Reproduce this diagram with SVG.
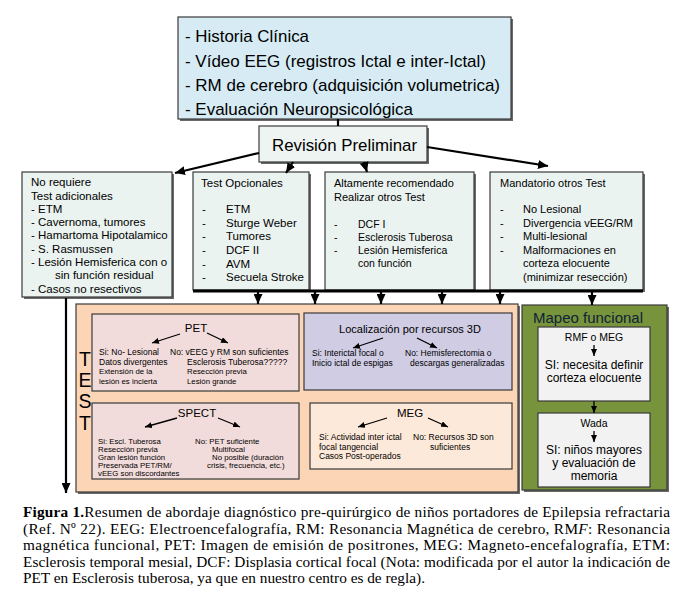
<svg xmlns="http://www.w3.org/2000/svg" width="684" height="604" viewBox="0 0 684 604">
<style>
text{font-family:"Liberation Sans",Arial,sans-serif;fill:#000}
.cap{font-family:"Liberation Serif","Times New Roman",serif;font-size:15.3px}
.bx{stroke:#3a3a3a;stroke-width:1.2}
.sh{fill:#6a6a6a}
.col{fill:#ebf3f0}
.c1{font-size:11.5px}
.c3{font-size:10.5px}
.c4{font-size:11px}
.sm{font-size:8.5px}
.sp{font-size:7.8px}
.ti{font-size:11.5px}
.mid{text-anchor:middle}
.tv{font-size:19.5px;writing-mode:vertical-rl;text-orientation:upright;letter-spacing:-0.8px}
.con line{stroke:#000;stroke-width:2.2;fill:none}
.con line.thin{stroke-width:1.3}
</style>
<defs>
<marker id="ab" markerUnits="userSpaceOnUse" markerWidth="10" markerHeight="9" refX="10" refY="4.5" orient="auto"><path d="M0,0 L10,4.5 L0,9 Z" fill="#000"/></marker>
<marker id="as" markerUnits="userSpaceOnUse" markerWidth="7" markerHeight="6" refX="7" refY="3" orient="auto"><path d="M0,0 L7,3 L0,6 Z" fill="#000"/></marker>
</defs>
<rect width="684" height="604" fill="#fff"/>

<g id="n-top">
<rect class="sh" x="180" y="19" width="333" height="102"/>
<rect class="bx" x="178" y="17" width="333" height="102" fill="#d6ebf4"/>
<text x="185" y="42" font-size="17" textLength="124" lengthAdjust="spacingAndGlyphs">- Historia Clínica</text>
<text x="185" y="66.5" font-size="17" textLength="301" lengthAdjust="spacingAndGlyphs">- Vídeo EEG (registros Ictal e inter-Ictal)</text>
<text x="185" y="90.5" font-size="17" textLength="315" lengthAdjust="spacingAndGlyphs">- RM de cerebro (adquisición volumetrica)</text>
<text x="185" y="114.5" font-size="17" textLength="228" lengthAdjust="spacingAndGlyphs">- Evaluación Neuropsicológica</text>
</g>

<g id="n-revision">
<rect class="sh" x="261" y="128" width="168" height="36"/>
<rect class="bx" x="259" y="126" width="168" height="36" fill="#eef4f1"/>
<text x="272" y="150.5" font-size="17" textLength="145" lengthAdjust="spacingAndGlyphs">Revisión Preliminar</text>
</g>

<g id="n-norequiere">
<rect class="sh" x="24" y="174" width="150" height="125"/>
<rect class="bx col" x="22" y="172" width="150" height="125"/>
<text class="c1" x="31" y="186">No requiere</text>
<text class="c1" x="31" y="199.5">Test adicionales</text>
<text class="c1" x="31" y="212.5">- ETM</text>
<text class="c1" x="31" y="225.8">- Cavernoma, tumores</text>
<text class="c1" x="31" y="239.2">- Hamartoma Hipotalamico</text>
<text class="c1" x="31" y="252.6">- S. Rasmussen</text>
<text class="c1" x="31" y="266">- Lesión Hemisferica con o</text>
<text class="c1" x="55" y="279.3">sin función residual</text>
<text class="c1" x="31" y="292.6">- Casos no resectivos</text>
</g>

<g id="n-opcionales">
<rect class="sh" x="195" y="174" width="116" height="118"/>
<rect class="bx col" x="193" y="172" width="116" height="118"/>
<text class="c1" x="201" y="187">Test Opcionales</text>
<text class="c1" x="202" y="213">-</text><text class="c1" x="226" y="213">ETM</text>
<text class="c1" x="202" y="226.5">-</text><text class="c1" x="226" y="226.5">Sturge Weber</text>
<text class="c1" x="202" y="240">-</text><text class="c1" x="226" y="240">Tumores</text>
<text class="c1" x="202" y="254">-</text><text class="c1" x="226" y="254">DCF II</text>
<text class="c1" x="202" y="267.5">-</text><text class="c1" x="226" y="267.5">AVM</text>
<text class="c1" x="202" y="281">-</text><text class="c1" x="226" y="281">Secuela Stroke</text>
</g>

<g id="n-recomendado">
<rect class="sh" x="327" y="174" width="149" height="118"/>
<rect class="bx col" x="325" y="172" width="149" height="118"/>
<text class="c4" x="334" y="187">Altamente recomendado</text>
<text class="c4" x="334" y="200.5">Realizar otros Test</text>
<text class="c3" x="334" y="227.5">-</text><text class="c3" x="358" y="227.5">DCF I</text>
<text class="c3" x="334" y="240.5">-</text><text class="c3" x="358" y="240.5">Esclerosis Tuberosa</text>
<text class="c3" x="334" y="254">-</text><text class="c3" x="358" y="254">Lesión Hemisferica</text>
<text class="c3" x="358" y="267">con función</text>
</g>

<g id="n-mandatorio">
<rect class="sh" x="492" y="174" width="153" height="118"/>
<rect class="bx col" x="490" y="172" width="153" height="118"/>
<text class="c4" x="500" y="187">Mandatorio otros Test</text>
<text class="c4" x="500" y="213">-</text><text class="c4" x="523" y="213">No Lesional</text>
<text class="c4" x="500" y="226.5">-</text><text class="c4" x="523" y="226.5">Divergencia vEEG/RM</text>
<text class="c4" x="500" y="240">-</text><text class="c4" x="523" y="240">Multi-lesional</text>
<text class="c4" x="500" y="253.5">-</text><text class="c4" x="523" y="253.5">Malformaciones en</text>
<text class="c4" x="523" y="267">corteza elocuente</text>
<text class="c4" x="523" y="280.5">(minimizar resección)</text>
</g>

<g id="n-test">
<rect class="sh" x="78" y="306" width="442" height="188"/>
<rect class="bx" x="76" y="304" width="442" height="188" fill="#fbd5b6"/>
<text class="tv" x="85" y="348">TEST</text>
</g>

<g id="n-pet">
<rect class="bx" x="92" y="314" width="207" height="77" fill="#f2dcdb"/>
<text class="ti mid" x="196" y="332">PET</text>
<text class="sm" x="99" y="355">Si: No- Lesional</text>
<text class="sm" x="99" y="364.5">Datos divergentes</text>
<text class="sp" x="99" y="374">Extensión de la</text>
<text class="sp" x="99" y="383.5">lesión es incierta</text>
<text class="sm" x="170" y="355">No: vEEG y RM son suficientes</text>
<text class="sm" x="187" y="364.5">Esclerosis Tuberosa?????</text>
<text class="sp" x="187" y="374">Resección previa</text>
<text class="sp" x="187" y="383.5">Lesión grande</text>
</g>

<g id="n-localizacion">
<rect class="bx" x="304" y="313" width="208" height="77" fill="#cfcce4"/>
<text class="mid" x="410" y="333" font-size="11">Localización por recursos 3D</text>
<text class="sm" x="312" y="356">Si: Interictal focal o</text>
<text class="sm" x="312" y="366">Inicio ictal de espigas</text>
<text class="sm" x="405" y="356">No: Hemisferectomia o</text>
<text class="sm" x="410" y="366">descargas generalizadas</text>
</g>

<g id="n-spect">
<rect class="bx" x="92" y="403" width="207" height="76" fill="#f2dcdb"/>
<text class="ti mid" x="197" y="417">SPECT</text>
<text class="sp" x="98" y="443.5">Si: Escl. Tuberosa</text>
<text class="sp" x="98" y="451.7">Resección previa</text>
<text class="sp" x="98" y="460">Gran lesión función</text>
<text class="sp" x="98" y="468.2">Preservada PET/RM/</text>
<text class="sp" x="98" y="476.4">vEEG son discordantes</text>
<text class="sp" x="195" y="443.5">No: PET suficiente</text>
<text class="sp" x="212" y="451.7">Multifocal</text>
<text class="sp" x="212" y="460">No posible (duración</text>
<text class="sp" x="207" y="468.2">crisis, frecuencia, etc.)</text>
</g>

<g id="n-meg">
<rect class="bx" x="310" y="403" width="202" height="66" fill="#fde9d9"/>
<text class="ti mid" x="410" y="417">MEG</text>
<text class="sm" x="319" y="440">Si: Actividad inter ictal</text>
<text class="sm" x="319" y="449.5">focal tangencial</text>
<text class="sm" x="319" y="459">Casos Post-operados</text>
<text class="sm" x="413" y="440">No: Recursos 3D son</text>
<text class="sm" x="430" y="449.5">suficientes</text>
</g>

<g id="n-mapeo">
<rect class="sh" x="524" y="307" width="145" height="185"/>
<rect class="bx" x="522" y="305" width="145" height="185" fill="#77933c"/>
<text x="533" y="323" font-size="15" textLength="110" lengthAdjust="spacingAndGlyphs" style="fill:#0f2238">Mapeo funcional</text>
<rect class="bx" x="538" y="327" width="112" height="74" fill="#f2f2f2"/>
<text class="mid" x="594" y="341" font-size="10.5">RMF o MEG</text>
<text class="mid" x="594" y="369" font-size="12">SI: necesita definir</text>
<text class="mid" x="594" y="382" font-size="12">corteza elocuente</text>
<rect class="bx" x="538" y="413" width="112" height="74" fill="#f2f2f2"/>
<text class="mid" x="594" y="427" font-size="10.5">Wada</text>
<text class="mid" x="594" y="454" font-size="12">SI: niños mayores</text>
<text class="mid" x="594" y="467" font-size="12">y evaluación de</text>
<text class="mid" x="594" y="480" font-size="12">memoria</text>
</g>

<g id="connectors" class="con">
<line x1="338" y1="119" x2="338" y2="126"/>
<line x1="259" y1="153" x2="175" y2="173" marker-end="url(#ab)"/>
<line x1="293" y1="162" x2="286" y2="173" marker-end="url(#ab)"/>
<line x1="364" y1="162" x2="367" y2="172" marker-end="url(#ab)"/>
<line x1="427" y1="147" x2="548" y2="166" marker-end="url(#ab)"/>
<line x1="193" y1="291" x2="643" y2="291" style="stroke-width:3"/>
<line x1="258" y1="291" x2="258" y2="304" marker-end="url(#ab)"/>
<line x1="315" y1="291" x2="315" y2="304" marker-end="url(#ab)"/>
<line x1="381" y1="291" x2="381" y2="304" marker-end="url(#ab)"/>
<line x1="442" y1="291" x2="442" y2="304" marker-end="url(#ab)"/>
<line x1="500" y1="291" x2="500" y2="304" marker-end="url(#ab)"/>
<line x1="592" y1="291" x2="592" y2="305" marker-end="url(#ab)"/>
<line x1="66" y1="298" x2="66" y2="493" marker-end="url(#ab)"/>
<line class="thin" x1="180" y1="334" x2="152" y2="343" marker-end="url(#as)"/>
<line class="thin" x1="207" y1="333" x2="228" y2="343" marker-end="url(#as)"/>
<line class="thin" x1="383" y1="338" x2="353" y2="348" marker-end="url(#as)"/>
<line class="thin" x1="417" y1="338" x2="437" y2="348" marker-end="url(#as)"/>
<line class="thin" x1="177" y1="418" x2="145" y2="427" marker-end="url(#as)"/>
<line class="thin" x1="218" y1="418" x2="240" y2="427" marker-end="url(#as)"/>
<line class="thin" x1="387" y1="418" x2="358" y2="427" marker-end="url(#as)"/>
<line class="thin" x1="428" y1="418" x2="448" y2="427" marker-end="url(#as)"/>
<line class="thin" x1="594" y1="345" x2="594" y2="356" marker-end="url(#as)"/>
<line class="thin" x1="594" y1="401" x2="594" y2="413" marker-end="url(#as)"/>
<line class="thin" x1="594" y1="431" x2="594" y2="442" marker-end="url(#as)"/>
</g>

<g id="caption">
<text class="cap" x="23" y="517" textLength="647" lengthAdjust="spacing"><tspan font-weight="bold">Figura 1.</tspan>Resumen de abordaje diagnóstico pre-quirúrgico de niños portadores de Epilepsia refractaria</text>
<text class="cap" x="23" y="533.5" textLength="647" lengthAdjust="spacing">(Ref. Nº 22). EEG: Electroencefalografía, RM: Resonancia Magnética de cerebro, RM<tspan font-style="italic">F</tspan>: Resonancia</text>
<text class="cap" x="23" y="550" textLength="647" lengthAdjust="spacing">magnética funcional, PET: Imagen de emisión de positrones, MEG: Magneto-encefalografía, ETM:</text>
<text class="cap" x="23" y="566.5" textLength="647" lengthAdjust="spacing">Esclerosis temporal mesial, DCF: Displasia cortical focal (Nota: modificada por el autor la indicación de</text>
<text class="cap" x="23" y="583">PET en  Esclerosis tuberosa, ya que en nuestro centro es de regla).</text>
</g>
</svg>
